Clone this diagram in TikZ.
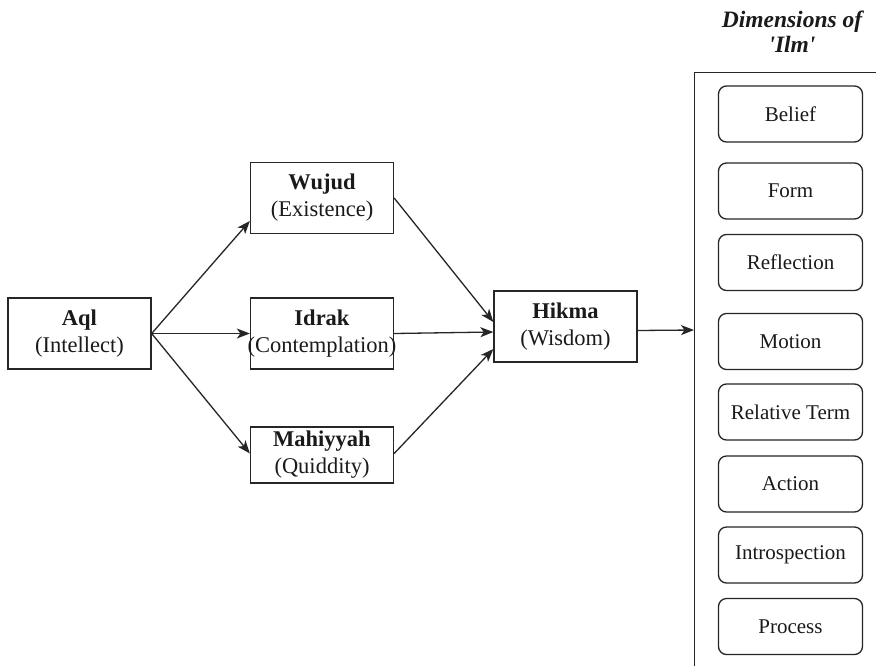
\documentclass[tikz,border=0pt]{standalone}
\usepackage{fontspec}
\setmainfont{Liberation Serif}
\usetikzlibrary{arrows.meta,calc}
\definecolor{ln}{HTML}{262626}
\definecolor{tx}{HTML}{1A1A1A}
\tikzset{
  mainbox/.style={draw=ln, line width=1.3pt, rectangle, minimum width=143pt, minimum height=71pt, inner sep=0pt, align=center, text=tx, font=\fontsize{22.5}{27}\selectfont},
  dimbox/.style={draw=ln, line width=1.3pt, rectangle, rounded corners=8pt, minimum width=144pt, minimum height=56pt, inner sep=0pt, align=center, text=tx, font=\fontsize{21}{24}\selectfont},
  conn/.style={draw=ln, line width=1.3pt, -{Stealth[length=13pt,width=10pt,inset=3.5pt]}},
}
\begin{document}
\begin{tikzpicture}[x=1pt,y=-1pt]
\useasboundingbox (0,0) rectangle (876,665);
\clip (0,0) rectangle (876,665);
\fill[white] (0,0) rectangle (876,665);

% title
\node[align=center, text=tx, font=\fontsize{23.5}{25.5}\selectfont\bfseries\itshape, inner sep=0pt] (title) at (792,31.5) {Dimensions of\\\textquotesingle Ilm\textquotesingle};

% container
\node[draw=ln, line width=1.3pt, rectangle, minimum width=220pt, minimum height=640pt, inner sep=0pt, anchor=north west] (dims) at (694,72) {};
\coordinate (dimsin) at (694,330);

% left nodes
\node[mainbox] (aql) at (79.5,333.5) {\textbf{Aql}\\(Intellect)};
\node[mainbox] (wujud) at (322,198) {\textbf{Wujud}\\(Existence)};
\node[mainbox] (idrak) at (322,333.5) {\textbf{Idrak}\\\makebox[0pt]{(Contemplation)}};
\node[mainbox, minimum height=56pt] (mahiyyah) at (322,455) {\textbf{Mahiyyah}\\(Quiddity)};
\node[mainbox] (hikma) at (565.5,326.5) {\textbf{Hikma}\\(Wisdom)};

% right boxes
\node[dimbox] (belief) at (790.5,114) {Belief};
\node[dimbox] (form) at (790.5,191) {Form};
\node[dimbox] (reflection) at (790.5,262.5) {Reflection};
\node[dimbox] (motion) at (790.5,341.5) {Motion};
\node[dimbox] (relative) at (790.5,412) {Relative Term};
\node[dimbox] (action) at (790.5,484) {Action};
\node[dimbox] (introspection) at (790.5,555) {Introspection};
\node[dimbox] (process) at (790.5,626.5) {Process};

% connectors
\draw[conn] (aql.east) -- ([yshift=-23pt]wujud.west);
\draw[conn] (aql.east) -- (idrak.west);
\draw[conn] (aql.east) -- ([yshift=1.5pt]mahiyyah.west);
\draw[conn] (wujud.east) -- ([yshift=4.5pt]hikma.west);
\draw[conn] (idrak.east) -- ([yshift=-5.5pt]hikma.west);
\draw[conn] ([yshift=1.5pt]mahiyyah.east) -- ([yshift=-22.5pt]hikma.west);
\draw[conn] ([yshift=-4pt]hikma.east) -- (dimsin);
\end{tikzpicture}
\end{document}
